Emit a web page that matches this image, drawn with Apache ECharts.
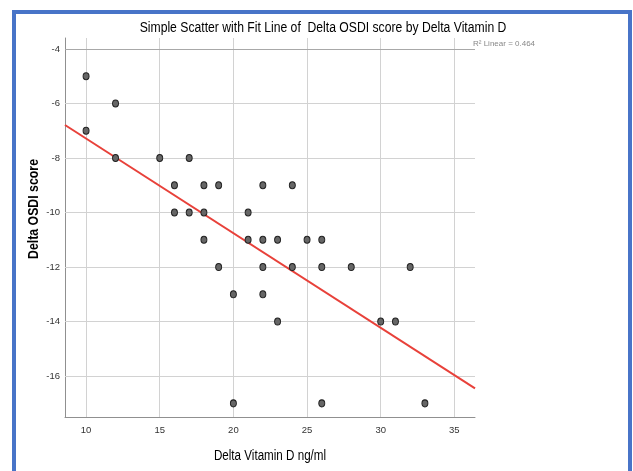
<!DOCTYPE html>
<html><head><meta charset="utf-8">
<script src="https://cdn.jsdelivr.net/npm/echarts@6/dist/echarts.min.js"></script>
<style>html,body{margin:0;padding:0;background:#fff}#c{width:633px;height:471px}</style>
</head><body><div id="c"></div>
<script>
// Data
const vitaminD = [10,10,12,12,15,17,16,18,19,22,24,16,17,18,21,18,21,22,23,25,26,19,22,24,26,28,32,20,22,23,30,31,20,26,33];
const osdiScore = [-5,-7,-6,-8,-8,-8,-9,-9,-9,-9,-9,-10,-10,-10,-10,-11,-11,-11,-11,-11,-11,-12,-12,-12,-12,-12,-12,-13,-13,-14,-14,-14,-17,-17,-17];
const xTicks = [10,15,20,25,30,35];
const yTicks = [-4,-6,-8,-10,-12,-14,-16];
const fitLineX = [8.57, 36.4];
const fitLineY = [-6.79, -16.45];
const xRange = [8.57, 36.4];
const yRange = [-17.5, -3.6];
const titleText = 'Simple Scatter with Fit Line of  Delta OSDI score by Delta Vitamin D';
const xName = 'Delta Vitamin D ng/ml';
const yName = 'Delta OSDI score';
const rSquaredText = 'R\u00B2 Linear = 0.464';

const FONT = '"Liberation Sans", Arial, sans-serif';
const chart = echarts.init(document.getElementById('c'), null, {renderer: 'canvas'});
const points = vitaminD.map((x, i) => [x, osdiScore[i]]);
const fitPts = fitLineX.map((x, i) => [x, fitLineY[i]]);
const gridMarks = xTicks.map(v => ({xAxis: v}))
  .concat(yTicks.map(v => ({yAxis: v, lineStyle: v === yTicks[0] ? {color: '#a8a8a8'} : undefined})));

chart.setOption({
  animation: false,
  backgroundColor: '#fff',
  grid: {left: 65, top: 38, right: 158, bottom: 54, containLabel: false},
  xAxis: {
    type: 'value', min: xRange[0], max: xRange[1], splitNumber: 5,
    axisLine: {show: true, lineStyle: {color: '#909090', width: 1}},
    axisTick: {show: false},
    splitLine: {show: false},
    axisLabel: {fontFamily: FONT, fontSize: 9.5, color: '#333', margin: 8,
      formatter: v => xTicks.includes(v) ? String(v) : ''}
  },
  yAxis: {
    type: 'value', min: yRange[0], max: yRange[1], splitNumber: 7,
    axisLine: {show: true, lineStyle: {color: '#909090', width: 1}},
    axisTick: {show: false},
    splitLine: {show: false},
    axisLabel: {fontFamily: FONT, fontSize: 9.5, color: '#333', margin: 5,
      formatter: v => yTicks.includes(v) ? String(v) : ''}
  },
  graphic: [
    {type: 'rect', shape: {x: 14, y: 12, width: 616, height: 520},
     style: {fill: 'none', stroke: '#4874c8', lineWidth: 4}, z: 100},
    {type: 'text', x: 323, y: 28, scaleX: 0.87,
     style: {text: titleText, fontFamily: FONT, fontSize: 14, fill: '#000',
             textAlign: 'center', textVerticalAlign: 'middle'}, z: 100},
    {type: 'text', x: 270, y: 456, scaleX: 0.83,
     style: {text: xName, fontFamily: FONT, fontSize: 14, fill: '#000',
             textAlign: 'center', textVerticalAlign: 'middle'}, z: 100},
    {type: 'text', x: 34, y: 209, rotation: Math.PI / 2, scaleX: 0.88,
     style: {text: yName, fontFamily: FONT, fontSize: 14, fontWeight: 'bold', fill: '#000',
             textAlign: 'center', textVerticalAlign: 'middle'}, z: 100},
    {type: 'text', left: 473, top: 40,
     style: {text: rSquaredText, fontFamily: FONT, fontSize: 8, fill: '#888'}, z: 100}
  ],
  series: [
    {
      type: 'line', data: [], silent: true, z: 0, zlevel: 0,
      markLine: {
        silent: true, symbol: 'none', animation: false,
        label: {show: false},
        lineStyle: {type: 'solid', color: '#d2d2d2', width: 1},
        data: gridMarks
      }
    },
    {
      type: 'line', data: fitPts, showSymbol: false, symbol: 'none', zlevel: 1,
      lineStyle: {color: '#e8413a', width: 2}, z: 3, silent: true
    },
    {
      type: 'scatter', data: points, symbol: 'circle', symbolSize: [6, 7], zlevel: 1,
      itemStyle: {color: '#666', borderColor: '#222', borderWidth: 1, opacity: 1}, z: 4
    }
  ]
});
</script></body></html>
